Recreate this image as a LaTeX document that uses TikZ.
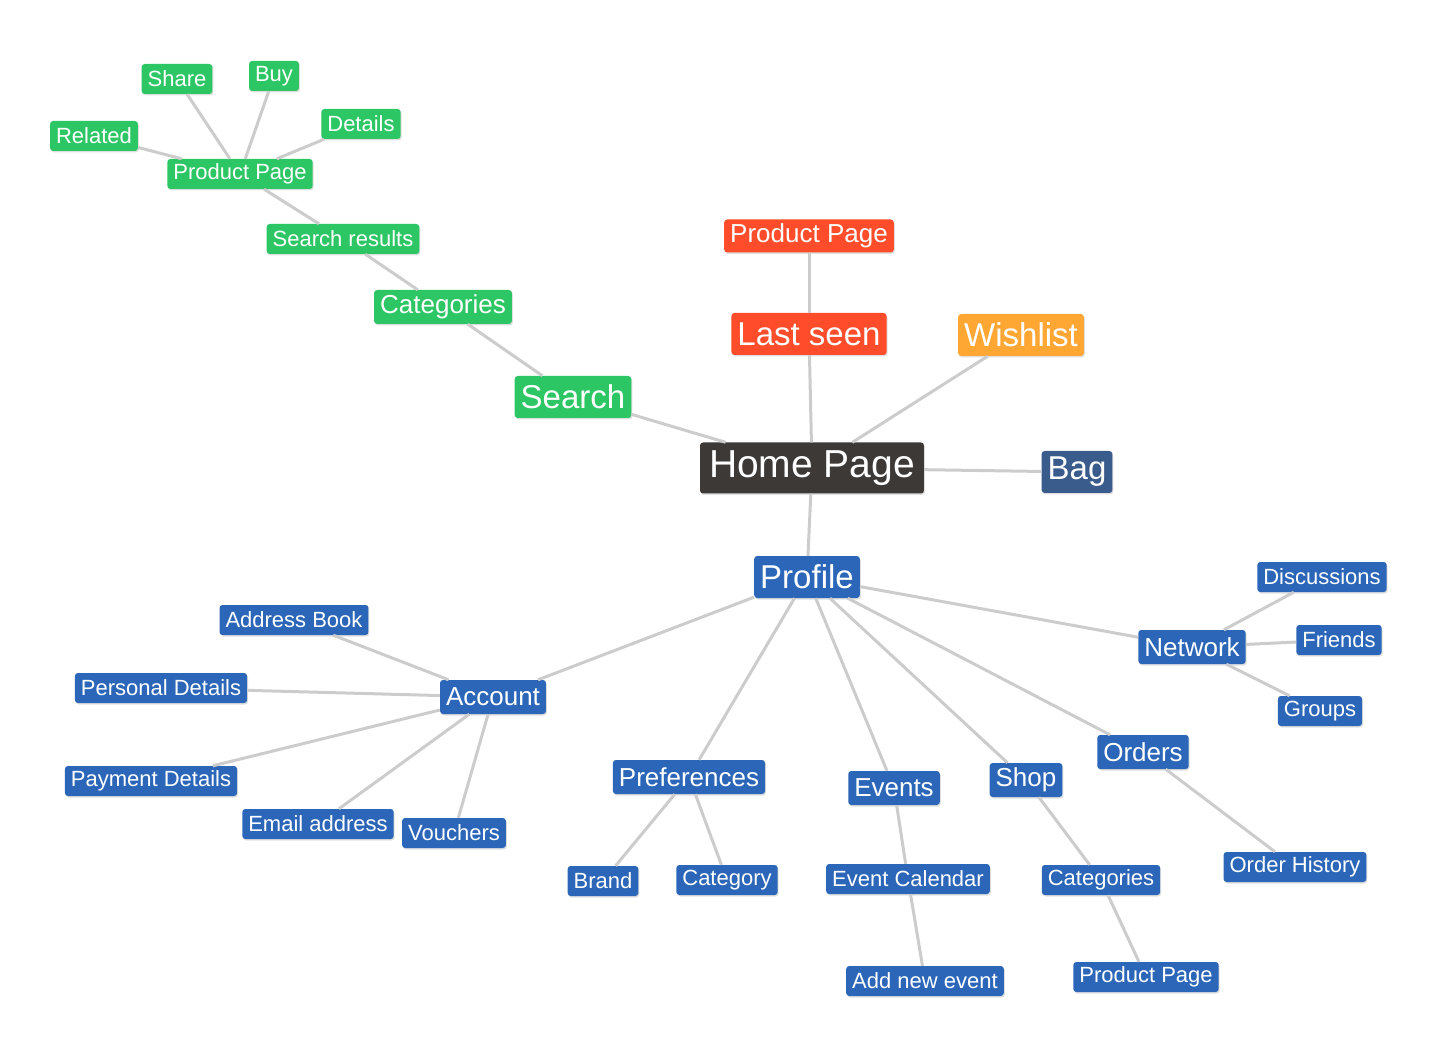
\documentclass[tikz,border=0pt]{standalone}
\usepackage{fontspec}
\setmainfont{Liberation Sans}
\definecolor{srchgreen}{RGB}{45, 198, 100}
\definecolor{seenred}{RGB}{255, 77, 43}
\definecolor{wishorange}{RGB}{255, 166, 51}
\definecolor{homedark}{RGB}{60, 57, 55}
\definecolor{bagblue}{RGB}{58, 92, 140}
\definecolor{profblue}{RGB}{43, 102, 184}
\definecolor{edgegray}{RGB}{204, 204, 204}
\usetikzlibrary{shadows}

\begin{document}
\begin{tikzpicture}[x=1pt, y=-1pt,
  tag/.style={rounded corners=3pt, text=white, inner ysep=0pt,
    drop shadow={shadow xshift=1pt, shadow yshift=-1.5pt, opacity=0.25}},
  tagS/.style={tag, font=\fontsize{22}{24}\selectfont, minimum height=30pt, inner xsep=6pt},
  tagM/.style={tag, font=\fontsize{26}{28}\selectfont, minimum height=34pt, inner xsep=6pt},
  tagL/.style={tag, font=\fontsize{33}{36}\selectfont, minimum height=42pt, inner xsep=6pt},
  tagXL/.style={tag, font=\fontsize{39}{42}\selectfont, minimum height=51pt, inner xsep=9pt},
  link/.style={edgegray, line width=3pt}]
  \useasboundingbox (0,0) rectangle (1436,1048);

  % Centre
  \node[tagXL, fill=homedark] (home) at (812,468) {Home Page};
  \node[tagL, fill=bagblue] (bag) at (1077,472) {Bag};
  \node[tagL, fill=wishorange] (wish) at (1021,335) {Wishlist};
  \node[tagL, fill=seenred] (seen) at (809,334) {Last seen};
  \node[tagM, fill=seenred, minimum height=33pt] (seenprod) at (809,236) {Product Page};

  % Search branch
  \node[tagL, fill=srchgreen] (search) at (573,397) {Search};
  \node[tagM, fill=srchgreen] (scat) at (443,307) {Categories};
  \node[tagS, fill=srchgreen] (sres) at (343,239) {Search results};
  \node[tagS, fill=srchgreen] (sprod) at (240,174) {Product Page};
  \node[tagS, fill=srchgreen] (related) at (94,136) {Related};
  \node[tagS, fill=srchgreen] (share) at (177,79) {Share};
  \node[tagS, fill=srchgreen] (buy) at (274,76) {Buy};
  \node[tagS, fill=srchgreen] (details) at (361,124) {Details};

  % Profile branch
  \node[tagL, fill=profblue] (profile) at (807,577) {Profile};
  \node[tagM, fill=profblue] (account) at (493,697) {Account};
  \node[tagS, fill=profblue] (addr) at (294,620) {Address Book};
  \node[tagS, fill=profblue] (pers) at (161,688) {Personal Details};
  \node[tagS, fill=profblue] (pay) at (151,781) {Payment Details};
  \node[tagS, fill=profblue] (email) at (318,824) {Email address};
  \node[tagS, fill=profblue] (vouch) at (454,833) {Vouchers};
  \node[tagM, fill=profblue] (prefs) at (689,777) {Preferences};
  \node[tagS, fill=profblue] (brand) at (603,881) {Brand};
  \node[tagS, fill=profblue] (categ) at (727,880) {Category};
  \node[tagM, fill=profblue] (events) at (894,788) {Events};
  \node[tagS, fill=profblue] (evcal) at (908,879) {Event Calendar};
  \node[tagS, fill=profblue] (evnew) at (925,981) {Add new event};
  \node[tagM, fill=profblue] (shop) at (1026,780) {Shop};
  \node[tagS, fill=profblue] (shopcat) at (1101,880) {Categories};
  \node[tagS, fill=profblue] (shopprod) at (1146,977) {Product Page};
  \node[tagM, fill=profblue] (orders) at (1143,752) {Orders};
  \node[tagS, fill=profblue] (ordhist) at (1295,867) {Order History};
  \node[tagM, fill=profblue] (network) at (1192,647) {Network};
  \node[tagS, fill=profblue] (disc) at (1322,577) {Discussions};
  \node[tagS, fill=profblue] (friends) at (1339,640) {Friends};
  \node[tagS, fill=profblue] (groups) at (1320,711) {Groups};

  % Links
  \draw[link] (home) -- (search);
  \draw[link] (home) -- (seen);
  \draw[link] (home) -- (wish);
  \draw[link] (home) -- (bag);
  \draw[link] (home) -- (profile);
  \draw[link] (seen) -- (seenprod);
  \draw[link] (search) -- (scat);
  \draw[link] (scat) -- (sres);
  \draw[link] (sres) -- (sprod);
  \foreach \leaf in {related, share, buy, details}
    \draw[link] (sprod) -- (\leaf);
  \foreach \leaf in {account, prefs, events, shop, orders, network}
    \draw[link] (profile) -- (\leaf);
  \foreach \leaf in {addr, pers, pay, email, vouch}
    \draw[link] (account) -- (\leaf);
  \draw[link] (prefs) -- (brand);
  \draw[link] (prefs) -- (categ);
  \draw[link] (events) -- (evcal);
  \draw[link] (evcal) -- (evnew);
  \draw[link] (shop) -- (shopcat);
  \draw[link] (shopcat) -- (shopprod);
  \draw[link] (orders) -- (ordhist);
  \foreach \leaf in {disc, friends, groups}
    \draw[link] (network) -- (\leaf);
\end{tikzpicture}
\end{document}
